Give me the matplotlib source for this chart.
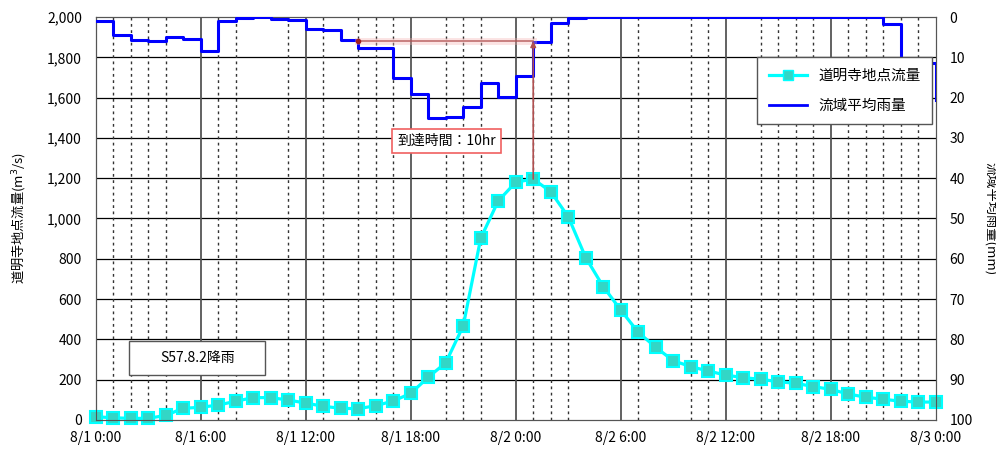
import matplotlib
matplotlib.use('Agg')
from matplotlib import pyplot as plt
from matplotlib.lines import Line2D
from matplotlib.patches import Rectangle

plt.rcParams['font.family'] = ['Noto Sans CJK JP', 'DejaVu Sans']

# hourly data from 8/1 0:00 to 8/3 0:00
hours = list(range(49))
flow = [16, 11, 8, 8, 23, 58, 63, 74, 93, 111,
        111, 99, 84, 68, 58, 56, 71, 94, 132, 212,
        284, 467, 902, 1087, 1180, 1196, 1133, 1009, 806, 662,
        546, 435, 361, 294, 265, 243, 223, 210, 202, 190,
        182, 166, 152, 129, 113, 103, 93, 89, 89]
rain = [0.9, 4.5, 5.7, 6.0, 5.0, 5.5, 8.4, 1.0, 0.3, 0.0,
        0.6, 0.8, 2.9, 3.2, 5.7, 7.6, 7.8, 15.2, 19.2, 25.0,
        24.7, 22.4, 16.3, 19.8, 14.6, 6.2, 1.6, 0.3, 0.0, 0.0,
        0.0, 0.0, 0.0, 0.0, 0.0, 0.0, 0.0, 0.0, 0.0, 0.0,
        0.0, 0.0, 0.0, 0.0, 0.0, 1.8, 11.5, 11.5, 20.6]

major_hours = [0, 6, 12, 18, 24, 30, 36, 42, 48]
major_labels = ['8/1 0:00', '8/1 6:00', '8/1 12:00', '8/1 18:00', '8/2 0:00',
                '8/2 6:00', '8/2 12:00', '8/2 18:00', '8/3 0:00']
dotted_hours = [1, 2, 3, 4, 7, 8, 11, 13, 15, 16, 17, 20, 21, 22, 25, 26, 27,
                31, 34, 35, 38, 39, 40, 41, 43, 44, 45, 46, 47]

lag_start = 15
lag_level = 6.0  # mm on the rain axis
lag_end = flow.index(max(flow))

fig = plt.figure(figsize=(9.96, 4.5), dpi=100)
ax = fig.add_axes([0.0961, 0.0667, 0.8434, 0.8955])
ax2 = ax.twinx()

# grid
for v in range(200, 2000, 200):
    ax.axhline(v, color='black', lw=0.9, zorder=1)
for h in major_hours[1:-1]:
    ax.axvline(h, color='#555555', lw=1.3, zorder=1)
for h in dotted_hours:
    ax.axvline(h, color='#333333', lw=1.0, ls=(0, (2, 2.5)), zorder=1)

ax.plot(hours, flow, color='cyan', lw=2.3, marker='s', ms=8.2,
        mfc='#33d6c6', mec='cyan', mew=1.5, zorder=3, clip_on=False)
ax2.step(hours, rain, where='post', color='blue', lw=2.2, zorder=3)

ax.set_xlim(0, 48)
ax.set_ylim(0, 2000)
ax2.set_ylim(100, 0)
ax.set_xticks(major_hours)
ax.set_xticklabels(major_labels)
ax.set_yticks(range(0, 2001, 200))
ax.set_yticklabels([f'{v:,}' for v in range(0, 2001, 200)])
ax2.set_yticks(range(0, 101, 10))
ax.tick_params(axis='both', length=0, labelsize=10)
ax.tick_params(axis='y', pad=10)
ax.tick_params(axis='x', pad=8)
ax2.tick_params(axis='y', length=0, labelsize=10, pad=10)

for sp in ax.spines.values():
    sp.set_color('#555555')
ax.spines['left'].set_color('#333333')
for sp in ax2.spines.values():
    sp.set_color('#555555')

# arrival time annotation
ax2.plot([lag_start, lag_end], [lag_level, lag_level], color='#f4b0b0', lw=5, alpha=0.35, zorder=4)
ax2.plot([lag_start, lag_end], [lag_level, lag_level], color='#b05050', lw=1.2, alpha=0.8, zorder=5)
ax2.plot([lag_start], [lag_level], 'o', color='#a02020', ms=3, zorder=5)
peak_on_rain = 100 * (1 - max(flow) / 2000)
ax2.annotate('', xy=(lag_end, lag_level), xytext=(lag_end, peak_on_rain),
             arrowprops=dict(arrowstyle='-|>', color='#b05050', lw=1.2,
                             mutation_scale=8, shrinkA=0, shrinkB=0), zorder=5)
ax2.text(20.05, 30.8, '到達時間：10hr', fontsize=10, ha='center', va='center', zorder=6,
         bbox=dict(boxstyle='square,pad=0.35', fc='white', ec='#f06060', lw=1.2))

# event label
ax.add_patch(Rectangle((1.92, 223), 7.75, 169, fc='white', ec='#555555', lw=1.0, zorder=5))
ax.text(5.8, 308, 'S57.8.2降雨', fontsize=10, ha='center', va='center', zorder=6)

handles = [Line2D([], [], color='cyan', lw=2.3, marker='s', ms=7, mfc='#33d6c6', mec='cyan'),
           Line2D([], [], color='blue', lw=2.0)]
leg = ax2.legend(handles, ['道明寺地点流量', '流域平均雨量'], loc='upper left',
                 bbox_to_anchor=(757 / 996, 1 - 57 / 450), bbox_transform=fig.transFigure,
                 fancybox=False, framealpha=1, edgecolor='#555555', fontsize=10.5,
                 handlelength=2.6, borderpad=0.8, labelspacing=1.1, borderaxespad=0)
leg.get_frame().set_linewidth(1.0)
leg.set_zorder(10)

fig.text(0.02, 0.515, '道明寺地点流量(m$^3$/s)', rotation=90, ha='center', va='center', fontsize=9.5)
fig.text(0.995, 0.515, '流域平均雨量(mm)', rotation=270, ha='center', va='center', fontsize=9.5)

fig.savefig('out.png', dpi=100)
